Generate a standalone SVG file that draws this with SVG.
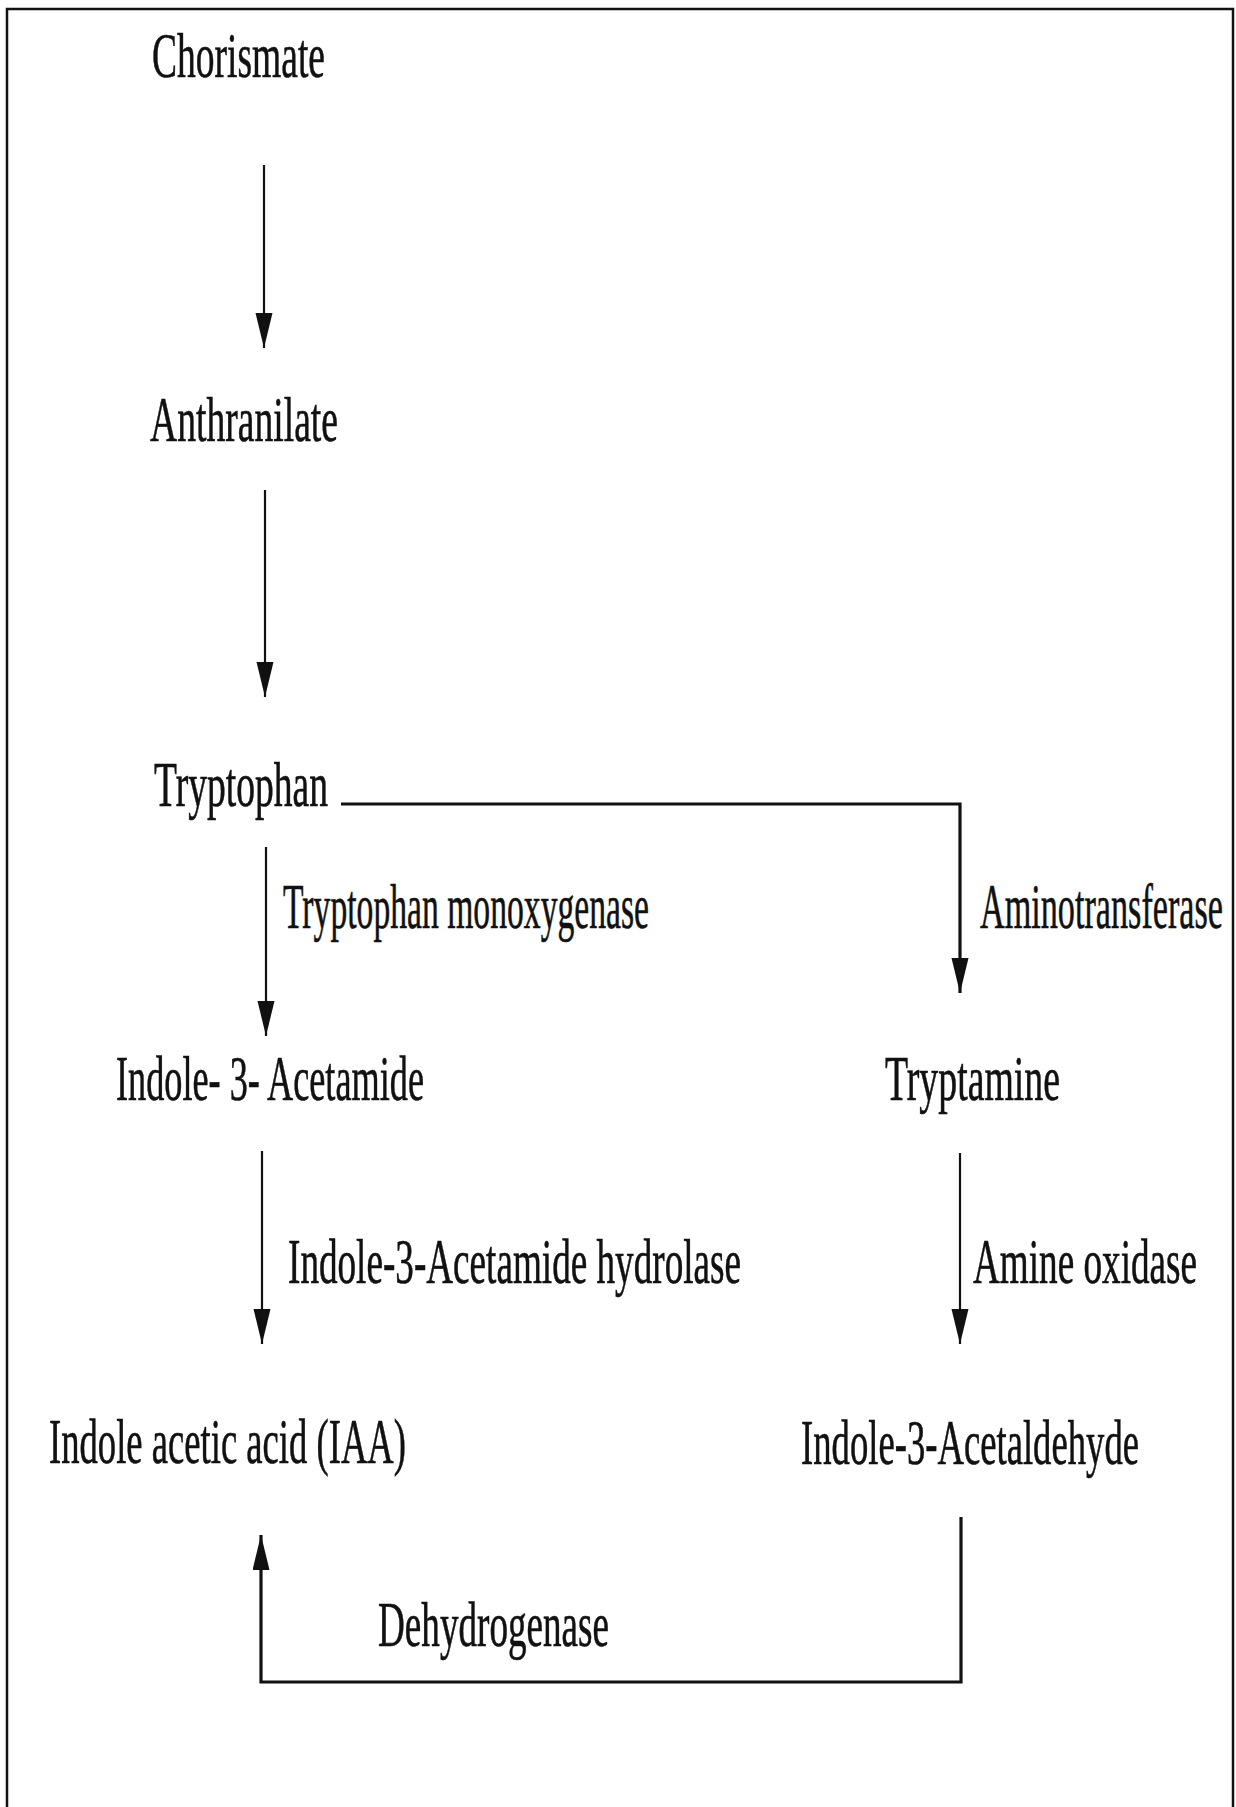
<svg xmlns="http://www.w3.org/2000/svg" width="1236" height="1807" viewBox="0 0 1236 1807">
  <style>
    text { font-family: "Liberation Serif", "Times New Roman", serif; font-size: 64px; fill: #111; stroke: #111; stroke-width: 0.6; }
    .edge { fill: none; stroke: #111; stroke-width: 2.2; }
    .thick { stroke-width: 3.2; }
    .frame { fill: none; stroke: #111; stroke-width: 2.5; }
  </style>
  <defs>
    <marker id="arrow" markerUnits="userSpaceOnUse" markerWidth="36" markerHeight="18" refX="35" refY="8.5" orient="auto">
      <path d="M0,0 L35,8.5 L0,17 Z" fill="#111"/>
    </marker>
  </defs>
  <rect width="1236" height="1807" fill="#fff"/>
  <rect class="frame" x="7" y="9" width="1226" height="1830"/>

  <g id="connectors">
    <line class="edge" x1="264" y1="165" x2="264" y2="348" marker-end="url(#arrow)"/>
    <line class="edge" x1="265" y1="490" x2="265" y2="697" marker-end="url(#arrow)"/>
    <line class="edge" x1="266" y1="847" x2="266" y2="1036" marker-end="url(#arrow)"/>
    <path class="edge thick" d="M341,804 H960 V993" marker-end="url(#arrow)"/>
    <line class="edge" x1="262" y1="1151" x2="262" y2="1344" marker-end="url(#arrow)"/>
    <line class="edge" x1="960" y1="1153" x2="960" y2="1344" marker-end="url(#arrow)"/>
    <path class="edge thick" d="M961,1517 V1682 H261 V1535" marker-end="url(#arrow)"/>
  </g>

  <g id="edge-labels">
    <text x="283" y="928" textLength="366" lengthAdjust="spacingAndGlyphs">Tryptophan monoxygenase</text>
    <text x="980" y="928" textLength="243" lengthAdjust="spacingAndGlyphs">Aminotransferase</text>
    <text x="288" y="1283" textLength="453" lengthAdjust="spacingAndGlyphs">Indole-3-Acetamide hydrolase</text>
    <text x="973" y="1283" textLength="224" lengthAdjust="spacingAndGlyphs">Amine oxidase</text>
    <text x="378" y="1646" textLength="231" lengthAdjust="spacingAndGlyphs">Dehydrogenase</text>
  </g>

  <g id="chorismate"><text x="152" y="77" textLength="173" lengthAdjust="spacingAndGlyphs">Chorismate</text></g>
  <g id="anthranilate"><text x="150" y="441" textLength="188" lengthAdjust="spacingAndGlyphs">Anthranilate</text></g>
  <g id="tryptophan"><text x="154" y="806" textLength="174" lengthAdjust="spacingAndGlyphs">Tryptophan</text></g>
  <g id="indole-3-acetamide"><text x="116" y="1100" textLength="308" lengthAdjust="spacingAndGlyphs">Indole- 3- Acetamide</text></g>
  <g id="tryptamine"><text x="885" y="1100" textLength="175" lengthAdjust="spacingAndGlyphs">Tryptamine</text></g>
  <g id="iaa"><text x="49" y="1463" textLength="357" lengthAdjust="spacingAndGlyphs">Indole acetic acid (IAA)</text></g>
  <g id="indole-3-acetaldehyde"><text x="801" y="1464" textLength="338" lengthAdjust="spacingAndGlyphs">Indole-3-Acetaldehyde</text></g>
</svg>
